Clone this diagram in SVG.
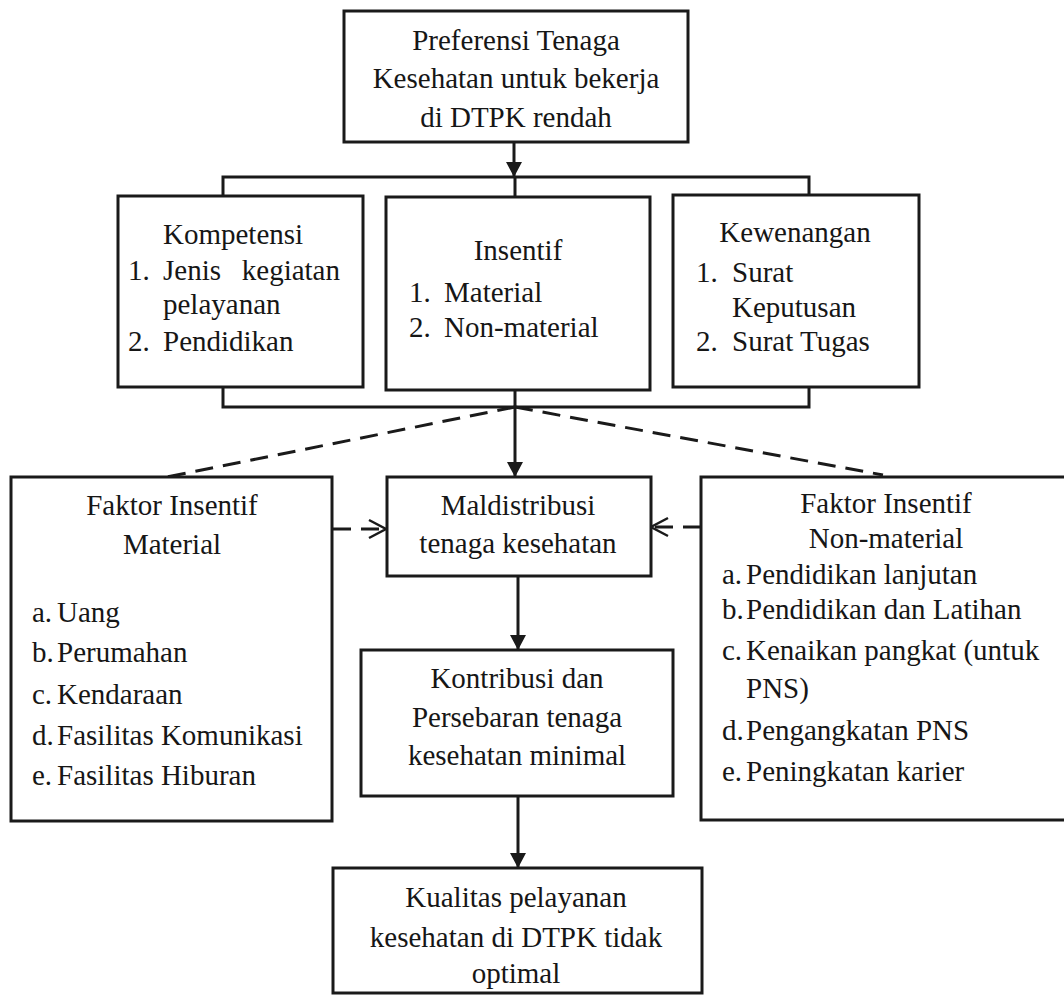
<svg xmlns="http://www.w3.org/2000/svg" width="1064" height="997" viewBox="0 0 1064 997" font-family="'Liberation Serif', 'Times New Roman', serif" font-size="29">
<style>
.box{fill:#fff;stroke:#1a1a1a;stroke-width:3}
.ln{fill:none;stroke:#1a1a1a;stroke-width:3}
.dash{fill:none;stroke:#1a1a1a;stroke-width:3;stroke-dasharray:18 10}
text{fill:#161616}
.c{text-anchor:middle}
</style>
<defs>
<marker id="ah" markerUnits="userSpaceOnUse" markerWidth="16" markerHeight="16" viewBox="0 0 16 16" refX="15" refY="8" orient="auto">
<path d="M0,0 L15,8 L0,16 z" fill="#1a1a1a"/>
</marker>
<marker id="oh" markerUnits="userSpaceOnUse" markerWidth="22" markerHeight="22" viewBox="0 0 22 22" refX="19" refY="11" orient="auto">
<path d="M2,2 L19,11 L2,20" fill="none" stroke="#1a1a1a" stroke-width="2.5"/>
</marker>
</defs>
<rect width="1064" height="997" fill="#fff"/>
<g id="connectors">
<path class="ln" d="M514,142 V177" marker-end="url(#ah)"/>
<path class="ln" d="M223,196 V177 H809 V196 M515,177 V197"/>
<path class="ln" d="M223,387 V407 H809 V387"/>
<path class="ln" d="M515,390 V477" marker-end="url(#ah)"/>
<path class="dash" d="M515,407 L167,477"/>
<path class="dash" d="M515,407 L883,475"/>
<path class="dash" d="M333,529 H386" marker-end="url(#oh)"/>
<path class="dash" d="M701,527 H651" marker-end="url(#oh)"/>
<path class="ln" d="M518,576 V650" marker-end="url(#ah)"/>
<path class="ln" d="M518,796 V868" marker-end="url(#ah)"/>
</g>
<g id="preferensi">
<rect class="box" x="344" y="11" width="344" height="131"/>
<text class="c" x="516" y="50">Preferensi Tenaga</text>
<text class="c" x="516" y="88">Kesehatan untuk bekerja</text>
<text class="c" x="516" y="127">di DTPK rendah</text>
</g>
<g id="kompetensi">
<rect class="box" x="118" y="196" width="245" height="191"/>
<text x="163" y="244">Kompetensi</text>
<text x="128" y="280">1.</text>
<text y="280"><tspan x="163">Jenis</tspan><tspan x="340" text-anchor="end">kegiatan</tspan></text>
<text x="163" y="314">pelayanan</text>
<text x="128" y="351">2.</text>
<text x="163" y="351">Pendidikan</text>
</g>
<g id="insentif">
<rect class="box" x="386" y="197" width="264" height="193"/>
<text class="c" x="518" y="260">Insentif</text>
<text x="409" y="302">1.</text>
<text x="444" y="302">Material</text>
<text x="409" y="337">2.</text>
<text x="444" y="337">Non-material</text>
</g>
<g id="kewenangan">
<rect class="box" x="673" y="195" width="246" height="192"/>
<text class="c" x="795" y="242">Kewenangan</text>
<text x="696" y="282">1.</text>
<text x="732" y="282">Surat</text>
<text x="732" y="317">Keputusan</text>
<text x="696" y="351">2.</text>
<text x="732" y="351">Surat Tugas</text>
</g>
<g id="faktor-material">
<rect class="box" x="11" y="477" width="321" height="344"/>
<text class="c" x="172" y="515">Faktor Insentif</text>
<text class="c" x="172" y="554">Material</text>
<text x="32" y="622">a.</text><text x="57" y="622">Uang</text>
<text x="32" y="662">b.</text><text x="57" y="662">Perumahan</text>
<text x="32" y="704">c.</text><text x="57" y="704">Kendaraan</text>
<text x="32" y="745">d.</text><text x="57" y="745">Fasilitas Komunikasi</text>
<text x="32" y="785">e.</text><text x="57" y="785">Fasilitas Hiburan</text>
</g>
<g id="maldistribusi">
<rect class="box" x="387" y="477" width="264" height="99"/>
<text class="c" x="518" y="515">Maldistribusi</text>
<text class="c" x="518" y="553">tenaga kesehatan</text>
</g>
<g id="faktor-nonmaterial">
<rect class="box" x="701" y="477" width="372" height="343"/>
<text class="c" x="886" y="513">Faktor Insentif</text>
<text class="c" x="886" y="548">Non-material</text>
<text x="722" y="584">a.</text><text x="746" y="584">Pendidikan lanjutan</text>
<text x="722" y="619">b.</text><text x="746" y="619">Pendidikan dan Latihan</text>
<text x="722" y="660">c.</text><text x="746" y="660">Kenaikan pangkat (untuk</text>
<text x="746" y="698">PNS)</text>
<text x="722" y="740">d.</text><text x="746" y="740">Pengangkatan PNS</text>
<text x="722" y="781">e.</text><text x="746" y="781">Peningkatan karier</text>
</g>
<g id="kontribusi">
<rect class="box" x="361" y="650" width="312" height="146"/>
<text class="c" x="517" y="688">Kontribusi dan</text>
<text class="c" x="517" y="727">Persebaran tenaga</text>
<text class="c" x="517" y="765">kesehatan minimal</text>
</g>
<g id="kualitas">
<rect class="box" x="333" y="868" width="369" height="125"/>
<text class="c" x="516" y="907">Kualitas pelayanan</text>
<text class="c" x="516" y="947">kesehatan di DTPK tidak</text>
<text class="c" x="516" y="983">optimal</text>
</g>
</svg>
